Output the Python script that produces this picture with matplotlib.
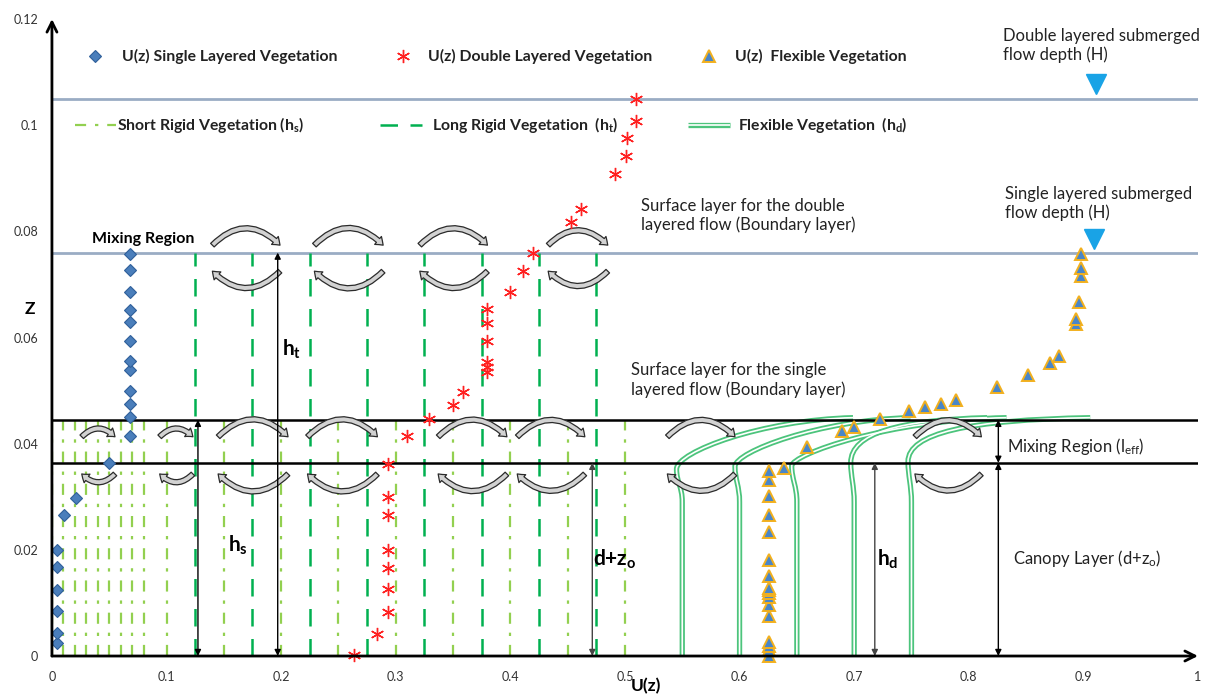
import numpy as np
import matplotlib
matplotlib.use('Agg')
import matplotlib.pyplot as plt
from matplotlib.patches import FancyArrowPatch, PathPatch
from matplotlib.path import Path

plt.rcParams['font.family'] = ['Lato', 'DejaVu Sans']
plt.rcParams['mathtext.fontset'] = 'custom'
plt.rcParams['mathtext.rm'] = 'Lato'
plt.rcParams['mathtext.it'] = 'Lato:italic'
plt.rcParams['mathtext.bf'] = 'Lato:bold'

# --- velocity profiles U(z) ---
single_u = [0.004, 0.004, 0.004, 0.004, 0.004, 0.004, 0.0105, 0.021, 0.050,
            0.068, 0.068, 0.068, 0.068, 0.068, 0.068, 0.068, 0.068, 0.068,
            0.068, 0.068, 0.068]
single_z = [0.0025, 0.0043, 0.0084, 0.0125, 0.0167, 0.0200, 0.0265, 0.0298, 0.0364,
            0.0415, 0.0450, 0.0474, 0.0500, 0.0538, 0.0555, 0.0594, 0.0629, 0.0651,
            0.0686, 0.0728, 0.0758]

double_u = [0.264, 0.284, 0.2935, 0.2935, 0.2935, 0.2935, 0.2935, 0.2935, 0.2935,
            0.3095, 0.329, 0.3496, 0.359, 0.3793, 0.3793, 0.3793, 0.3793, 0.3793,
            0.3793, 0.3997, 0.4107, 0.420, 0.4529, 0.4616, 0.4913, 0.5009, 0.5017,
            0.5096, 0.5096]
double_z = [0.0002, 0.0041, 0.0083, 0.0126, 0.0165, 0.0199, 0.0266, 0.0299, 0.0362,
            0.0415, 0.0447, 0.0472, 0.0497, 0.0535, 0.0545, 0.0553, 0.0594, 0.0628,
            0.0653, 0.0686, 0.0726, 0.0760, 0.0817, 0.0842, 0.0908, 0.0942, 0.0975,
            0.1008, 0.1049]

flex_u = [0.626, 0.626, 0.626, 0.626, 0.626, 0.626, 0.626, 0.626, 0.626, 0.626,
          0.626, 0.626, 0.626, 0.626, 0.626, 0.626, 0.626, 0.639, 0.6585, 0.689,
          0.700, 0.7225, 0.7478, 0.762, 0.7757, 0.789, 0.825, 0.8514, 0.8709,
          0.879, 0.8936, 0.894, 0.8959, 0.898, 0.898, 0.898]
flex_z = [0.0000, 0.0011, 0.0019, 0.0027, 0.0075, 0.0096, 0.0112, 0.0118, 0.0125,
          0.0129, 0.0150, 0.0181, 0.0233, 0.0266, 0.0302, 0.0332, 0.0348, 0.0354,
          0.0394, 0.0423, 0.0431, 0.0447, 0.0461, 0.0469, 0.0475, 0.0483, 0.0507,
          0.0529, 0.0552, 0.0566, 0.0625, 0.0635, 0.0667, 0.0716, 0.0731, 0.0757]

# --- vegetation ---
short_rigid_u = [0.0, 0.01, 0.02, 0.03, 0.04, 0.05, 0.06, 0.07, 0.08, 0.10,
                 0.15, 0.20, 0.25, 0.30, 0.35, 0.40, 0.45, 0.50]
long_rigid_u = [0.125, 0.175, 0.225, 0.275, 0.325, 0.375, 0.425, 0.475]
h_short = 0.0445
h_long = 0.076
h_canopy = 0.0364
depth_double = 0.105
depth_single = 0.076

# flexible stems: base, knee, tip and bend controls
stem_base = [0.55, 0.60, 0.65, 0.70, 0.75]
stem_knee_u = [0.545, 0.596, 0.6455, 0.697, 0.747]
stem_knee_z = [0.0352, 0.0357, 0.0358, 0.0364, 0.0366]
stem_rise_z = [0.0385, 0.0385, 0.0380, 0.0420, 0.0420]
stem_reach_u = [0.62, 0.67, 0.73, 0.74, 0.80]
stem_tip_u = [0.699, 0.749, 0.833, 0.816, 0.906]
stem_tip_z = [0.0449, 0.0449, 0.0449, 0.0449, 0.0449]

# eddies (left end, right end) along the two mixing layers
eddy_top_spans = [(0.140, 0.199), (0.229, 0.289), (0.321, 0.380), (0.433, 0.485)]
eddy_low_spans = [(0.026, 0.055), (0.094, 0.123), (0.145, 0.206), (0.223, 0.284),
                  (0.337, 0.397), (0.406, 0.465), (0.537, 0.596), (0.753, 0.811)]

x_ticks = [0, 0.1, 0.2, 0.3, 0.4, 0.5, 0.6, 0.7, 0.8, 0.9, 1.0]
x_tick_labels = ['0', '0.1', '0.2', '0.3', '0.4', '0.5', '0.6', '0.7', '0.8', '0.9', '1']
y_ticks = [0, 0.02, 0.04, 0.06, 0.08, 0.10, 0.12]
y_tick_labels = ['0', '0.02', '0.04', '0.06', '0.08', '0.1', '0.12']

LIGHT_GREEN = '#92D050'
DARK_GREEN = '#00B050'
FLEX_GREEN = '#4CC47C'
DEPTH_LINE = '#9AACC4'


def double_line(ax, path_or_xy, lw_out=3.8, lw_in=1.2):
    """Green outline with white core (flexible stem look)."""
    if isinstance(path_or_xy, Path):
        ax.add_patch(PathPatch(path_or_xy, fill=False, ec=FLEX_GREEN, lw=lw_out,
                               capstyle='butt', zorder=3))
        ax.add_patch(PathPatch(path_or_xy, fill=False, ec='white', lw=lw_in,
                               capstyle='butt', zorder=3.1))
    else:
        xs, ys = path_or_xy
        ax.plot(xs, ys, color=FLEX_GREEN, lw=lw_out, solid_capstyle='butt',
                zorder=3, clip_on=False)
        ax.plot(xs, ys, color='white', lw=lw_in, solid_capstyle='butt',
                zorder=3.1, clip_on=False)


def eddy(ax, u0, u1, z, upper):
    """Curved block arrow; upper arcs run left->right, lower ones right->left."""
    a, b = ((u0, z), (u1, z)) if upper else ((u1, z), (u0, z))
    arr = FancyArrowPatch(a, b, connectionstyle="arc3,rad=-0.5",
                          arrowstyle="simple,head_length=0.5,head_width=0.75,tail_width=0.36",
                          mutation_scale=10, fc='#D2D2D2', ec='#2b2b2b', lw=0.9,
                          shrinkA=0, shrinkB=0, zorder=5)
    ax.add_patch(arr)


def dim_arrow(ax, u, z0, z1, color='black'):
    ax.annotate('', xy=(u, z1), xytext=(u, z0),
                arrowprops=dict(arrowstyle='<|-|>', color=color, lw=1.0,
                                mutation_scale=9, shrinkA=0, shrinkB=0),
                zorder=6, annotation_clip=False)


fig = plt.figure(figsize=(12.08, 6.97), dpi=100)
ax = fig.add_axes([0.043, 0.0588, 0.9487, 0.9139])
ax.set_xlim(0, 1)
ax.set_ylim(0, 0.12)
for s in ax.spines.values():
    s.set_visible(False)
ax.set_xticks(x_ticks)
ax.set_xticklabels(x_tick_labels)
ax.set_yticks(y_ticks)
ax.set_yticklabels(y_tick_labels)
ax.tick_params(length=0, labelsize=9, labelcolor='#333333', pad=10)
ax.tick_params(axis='x', pad=11)

# axes with arrow tips
ax.annotate('', xy=(0, 0.12), xytext=(0, 0),
            arrowprops=dict(arrowstyle='->', color='black', lw=2, mutation_scale=18,
                            shrinkA=0, shrinkB=0), annotation_clip=False, zorder=8)
ax.annotate('', xy=(1.0, 0), xytext=(0, 0),
            arrowprops=dict(arrowstyle='->', color='black', lw=2, mutation_scale=18,
                            shrinkA=0, shrinkB=0), annotation_clip=False, zorder=8)
ax.text(-0.019, 0.0653, 'Z', fontsize=12.5, fontweight='bold', ha='center', va='center')
ax.text(0.518, -0.0056, 'U(z)', fontsize=12.5, fontweight='bold', ha='center', va='center')

# flow depths and layer boundaries
ax.axhline(depth_double, color=DEPTH_LINE, lw=2, zorder=1)
ax.axhline(depth_single, color=DEPTH_LINE, lw=2, zorder=1)
ax.axhline(h_short, color='black', lw=1.8, zorder=4)
ax.axhline(h_canopy, color='black', lw=1.8, zorder=4)

# rigid vegetation
for u in short_rigid_u:
    ax.plot([u, u], [0, h_short], color=LIGHT_GREEN, lw=1.6,
            dashes=(5, 4, 1.5, 4), zorder=2)
for u in long_rigid_u:
    ax.plot([u, u], [0, h_long], color=DARK_GREEN, lw=1.8, dashes=(7, 5), zorder=2)

# flexible vegetation
for i in range(len(stem_base)):
    u0, uk, zk = stem_base[i], stem_knee_u[i], stem_knee_z[i]
    verts = [(u0, 0), (u0, 0.029),
             (u0, 0.0320), (uk, zk - 0.0025), (uk, zk),
             (uk, stem_rise_z[i]), (stem_reach_u[i], stem_tip_z[i] - 0.0004),
             (stem_tip_u[i], stem_tip_z[i])]
    codes = [Path.MOVETO, Path.LINETO,
             Path.CURVE4, Path.CURVE4, Path.CURVE4,
             Path.CURVE4, Path.CURVE4, Path.CURVE4]
    double_line(ax, Path(verts, codes))

# eddies
for u0, u1 in eddy_top_spans:
    eddy(ax, u0, u1, 0.0774, upper=True)
    eddy(ax, u0, u1, 0.0725, upper=False)
for u0, u1 in eddy_low_spans:
    eddy(ax, u0, u1, 0.0413, upper=True)
    eddy(ax, u0, u1, 0.0343, upper=False)

# profiles
ax.plot(single_u, single_z, ls='none', marker='D', ms=6.5, mfc='#4A7EBB',
        mec='#2F5F9A', mew=0.8, zorder=7, clip_on=False)
ax.plot(double_u, double_z, ls='none', marker=(6, 2, 0), ms=9.5, mec='#FF2020',
        mew=1.0, zorder=7, clip_on=False)
ax.plot(flex_u, flex_z, ls='none', marker='^', ms=8, mfc='#4A86C8',
        mec='#F2B01E', mew=1.4, zorder=7, clip_on=False)

# free-surface markers
ax.plot([0.911, 0.9095], [0.1077, 0.0785], ls='none', marker='v', ms=14,
        color='#19A3E6', zorder=7)

# height dimensions
dim_arrow(ax, 0.197, 0, h_long)
dim_arrow(ax, 0.1274, 0, h_short)
dim_arrow(ax, 0.4715, 0, h_canopy, color='#444444')
dim_arrow(ax, 0.718, 0, h_canopy, color='#444444')
dim_arrow(ax, 0.8258, 0, h_canopy)
dim_arrow(ax, 0.8258, h_canopy, h_short)

big = dict(fontsize=15, fontweight='bold', va='center', ha='left', zorder=9)
ax.text(0.2007, 0.0577, r'h$_\mathbf{t}$', **big)
ax.text(0.154, 0.0208, r'h$_\mathbf{s}$', **big)
ax.text(0.472, 0.0183, r'd+z$_\mathbf{o}$', **big)
ax.text(0.720, 0.0183, r'h$_\mathbf{d}$', **big)

note = dict(fontsize=12, va='center', ha='left', color='#222222', linespacing=1.2)
ax.text(0.833, 0.0394, r'Mixing Region (l$_\mathrm{eff}$)', **note)
ax.text(0.839, 0.0183, r'Canopy Layer (d+z$_\mathrm{o}$)', **note)
ax.text(0.505, 0.0520, 'Surface layer for the single\nlayered flow (Boundary layer)', **note)
ax.text(0.514, 0.0830, 'Surface layer for the double\nlayered flow (Boundary layer)', **note)
ax.text(0.830, 0.1150, 'Double layered submerged\nflow depth (H)', **note)
ax.text(0.832, 0.0853, 'Single layered submerged\nflow depth (H)', **note)
ax.text(0.035, 0.0785, 'Mixing Region', fontsize=11.5, fontweight='bold',
        va='center', ha='left')

# key
key = dict(fontsize=11.3, fontweight='bold', va='center', ha='left', color='#222222')
ax.plot([0.0375], [0.1130], ls='none', marker='D', ms=6.5, mfc='#4A7EBB',
        mec='#2F5F9A', mew=0.8)
ax.text(0.061, 0.1130, 'U(z) Single Layered Vegetation', **key)
ax.plot([0.306], [0.1130], ls='none', marker=(6, 2, 0), ms=9.5, mec='#FF2020', mew=1.0)
ax.text(0.328, 0.1130, 'U(z) Double Layered Vegetation', **key)
ax.plot([0.573], [0.1130], ls='none', marker='^', ms=8, mfc='#4A86C8',
        mec='#F2B01E', mew=1.4)
ax.text(0.596, 0.1130, 'U(z)  Flexible Vegetation', **key)

ax.plot([0.020, 0.056], [0.1000, 0.1000], color=LIGHT_GREEN, lw=1.6, dashes=(5, 4, 1.5, 4))
ax.text(0.057, 0.1000, r'Short Rigid Vegetation (h$_\mathbf{s}$)', **key)
ax.plot([0.286, 0.323], [0.1000, 0.1000], color=DARK_GREEN, lw=1.8, dashes=(7, 5))
ax.text(0.332, 0.1000, r'Long Rigid Vegetation  (h$_\mathbf{t}$)', **key)
double_line(ax, ([0.555, 0.592], [0.1000, 0.1000]))
ax.text(0.599, 0.1000, r'Flexible Vegetation  (h$_\mathbf{d}$)', **key)

fig.savefig('out.png', dpi=100)
